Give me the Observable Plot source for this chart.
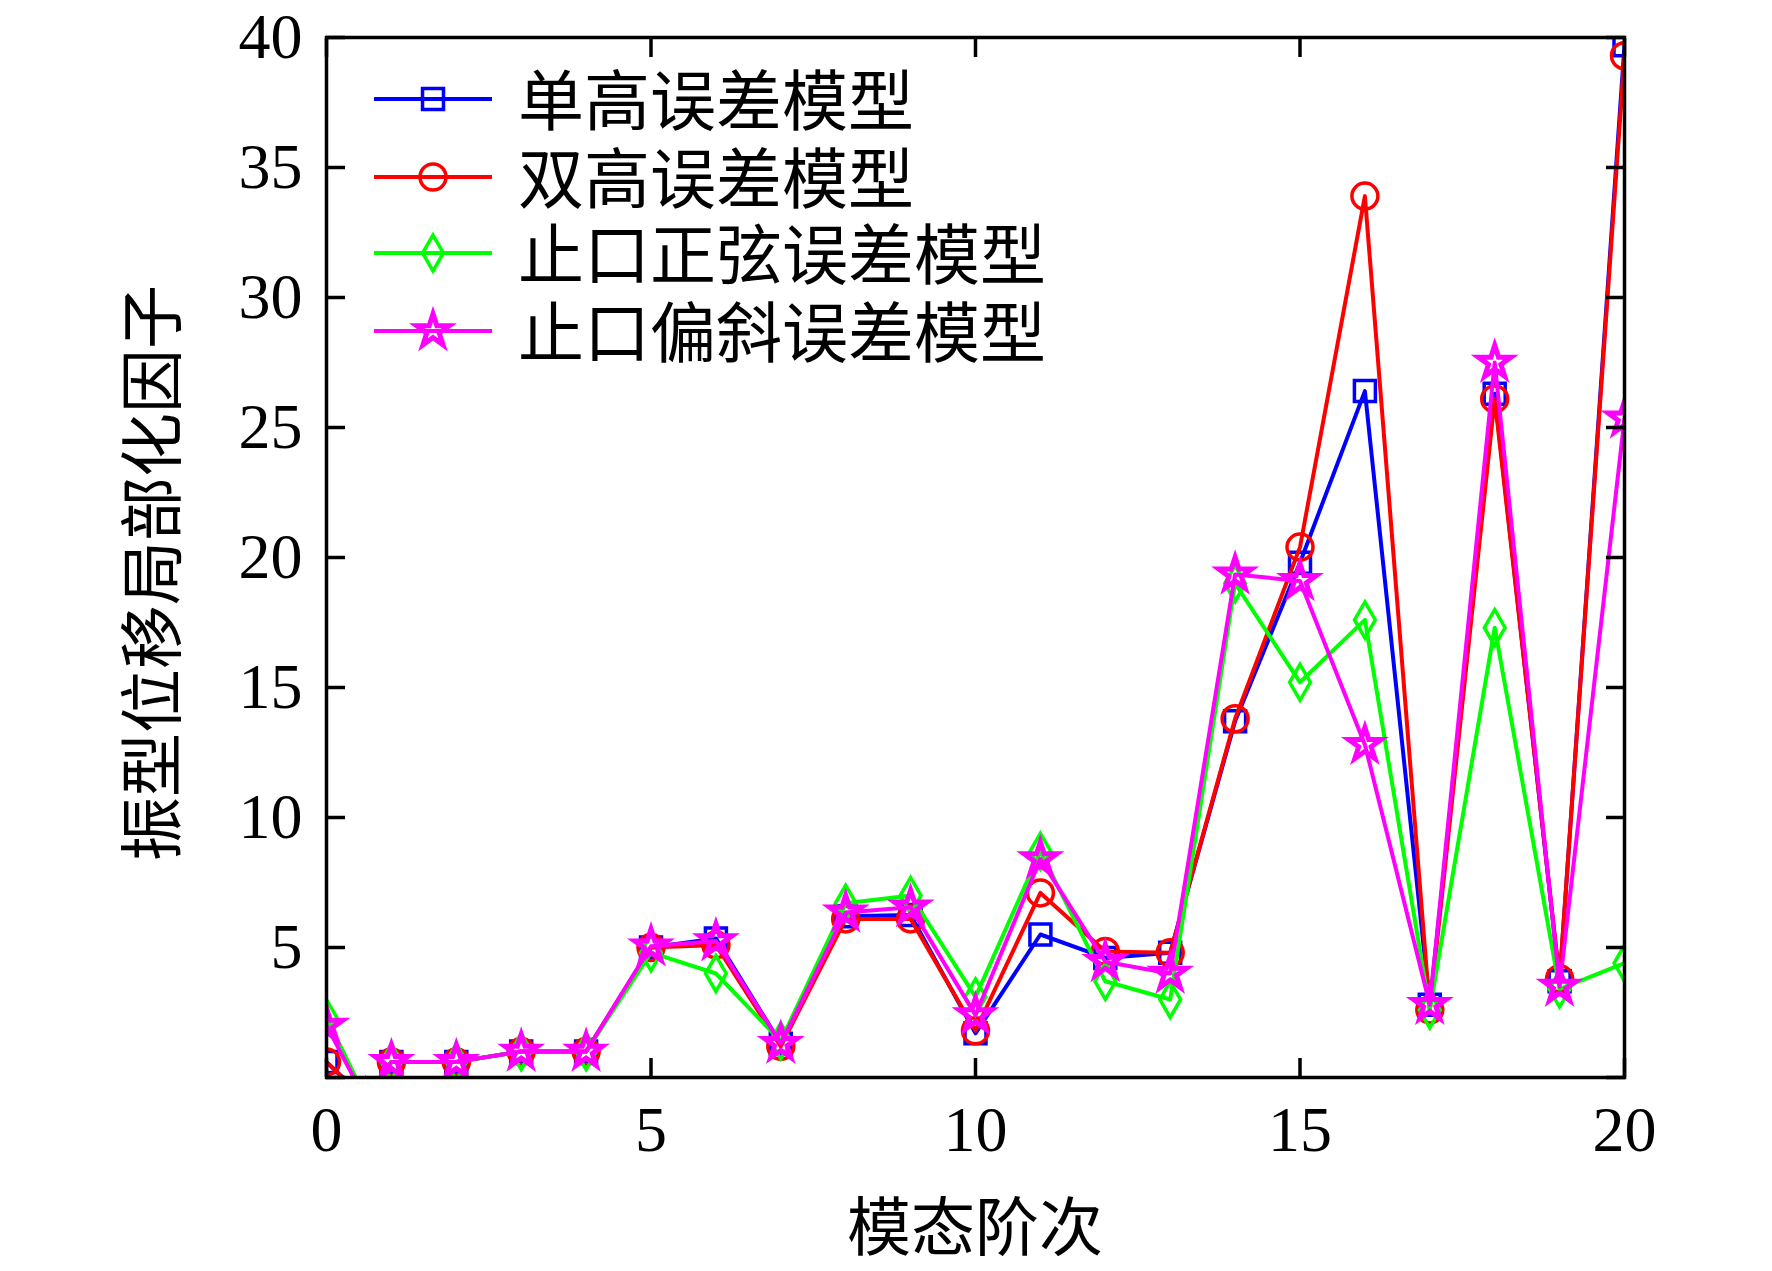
<!DOCTYPE html>
<html><head><meta charset="utf-8">
<script src="https://cdn.jsdelivr.net/npm/d3@7"></script>
<script src="https://cdn.jsdelivr.net/npm/@observablehq/plot@0.6"></script>
<style>
html,body{margin:0;padding:0;background:#fff;}
#wrap{position:relative;width:1772px;height:1271px;overflow:hidden;background:#fff;}
.ttl{position:absolute;font-family:"Noto Sans CJK SC","Noto Sans CJK JP",sans-serif;color:#000;white-space:nowrap;line-height:1;}
#overlay{position:absolute;left:0;top:0;}
</style></head>
<body><div id="wrap"></div>
<script>
// ---- data ----
const modes = [0,1,2,3,4,5,6,7,8,9,10,11,12,13,14,15,16,17,18,19,20];
// the first segment of every series leaves the plot below zero before mode 1
const dipMode = 0.6;
const dipValues = [-0.84, -0.84, -0.76, -0.86];
const seriesNames = ["单高误差模型", "双高误差模型", "止口正弦误差模型", "止口偏斜误差模型"];
const singleHeight = [0.6,0.6,0.6,1.0,1.0,5.0,5.35,1.3,6.2,6.25,1.7,5.5,4.6,4.8,13.7,19.8,26.4,2.8,26.3,3.7,39.7];
const doubleHeight = [0.6,0.6,0.6,1.0,1.0,5.0,5.1,1.2,6.1,6.1,1.8,7.1,4.85,4.8,13.8,20.4,33.9,2.6,26.1,3.8,39.3];
const sineSpigot  = [2.3,0.6,0.6,1.0,1.0,4.8,4.0,1.4,6.7,7.0,3.1,8.7,3.7,3.0,19.0,15.2,17.6,2.6,17.3,3.4,4.4];
const skewSpigot  = [2.0,0.6,0.6,1.0,1.0,5.05,5.25,1.3,6.35,6.55,2.4,8.4,4.45,4.0,19.35,19.1,12.8,2.8,27.5,3.5,25.35];
const xTicks = [0,5,10,15,20];
const yTicks = [0,5,10,15,20,25,30,35,40];
const xLabel = "模态阶次";
const yLabel = "振型位移局部化因子";

// ---- styling ----
const colors = ["#0000ff", "#ff0000", "#00ff00", "#ff00ff"];
const symbols = ["square", "circle", "diamond", "star"];
const symbolSize = [440, 531, 374, 330]; // d3 symbol areas
const symbolStroke = [3.5, 3.5, 3.5, 5];
const seriesValues = [singleHeight, doubleHeight, sineSpigot, skewSpigot];

const W = 1772, H = 1271;
const mL = 326, mR = 148, mT = 37, mB = 194;

function rowsFor(i) {
  const vals = seriesValues[i];
  const rows = [{x: modes[0], y: vals[0]}, {x: dipMode, y: dipValues[i]}];
  for (let k = 1; k < modes.length; k++) rows.push({x: modes[k], y: vals[k]});
  return rows;
}

const seriesMarks = seriesValues.flatMap((_, i) => {
  const rows = rowsFor(i);
  return [
    Plot.line(rows, {x: "x", y: "y", stroke: colors[i], strokeWidth: 4, clip: true}),
    Plot.dot(rows, {x: "x", y: "y", stroke: colors[i], fill: "none", symbol: symbols[i],
      r: Math.sqrt(symbolSize[i] / Math.PI), strokeWidth: symbolStroke[i], clip: true})
  ];
});

const chart = Plot.plot({
  width: W, height: H,
  marginLeft: mL, marginRight: mR, marginTop: mT, marginBottom: mB,
  x: {domain: [0, 20]},
  y: {domain: [0, 40]},
  style: {fontFamily: "'Liberation Serif', 'Times New Roman', serif", fontSize: "64px", background: "#fff", color: "#000"},
  marks: [
    ...seriesMarks,
    Plot.frame({stroke: "#000", strokeWidth: 3.5}),
    Plot.axisY(yTicks, {anchor: "left", tickSize: -19, tickPadding: 43, strokeWidth: 3.5,
      tickFormat: d => d === 0 ? "" : String(d), label: null, fontSize: 64}),
    Plot.axisY(yTicks, {anchor: "right", tickSize: -19, strokeWidth: 3.5, tickFormat: () => "", label: null}),
    Plot.axisX(xTicks, {anchor: "bottom", tickSize: -19, tickPadding: 47, strokeWidth: 3.5,
      tickFormat: d => String(d), label: null, fontSize: 64}),
    Plot.axisX(xTicks, {anchor: "top", tickSize: -19, strokeWidth: 3.5, tickFormat: () => "", label: null})
  ]
});

const wrap = document.getElementById("wrap");
wrap.appendChild(chart);

// axis titles
const xt = document.createElement("div");
xt.className = "ttl"; xt.textContent = xLabel;
xt.style.fontSize = "64px";
xt.style.left = "975px"; xt.style.top = "1222px";
xt.style.transform = "translate(-50%,-50%)";
wrap.appendChild(xt);

const yt = document.createElement("div");
yt.className = "ttl"; yt.textContent = yLabel;
yt.style.fontSize = "64px";
yt.style.left = "147px"; yt.style.top = "573px";
yt.style.transform = "translate(-50%,-50%) rotate(-90deg)";
wrap.appendChild(yt);

// legend (inside the plot, no box)
const legendY = [99, 177, 253, 331];
const svg = d3.select(wrap).append("svg").attr("id", "overlay").attr("width", W).attr("height", H);
const d3sym = {square: d3.symbolSquare, circle: d3.symbolCircle, diamond: d3.symbolDiamond, star: d3.symbolStar};
seriesNames.forEach((name, i) => {
  const g = svg.append("g").attr("transform", `translate(0,${legendY[i]})`);
  g.append("line").attr("x1", 374).attr("x2", 492).attr("y1", 0).attr("y2", 0)
    .attr("stroke", colors[i]).attr("stroke-width", 4);
  g.append("path").attr("transform", "translate(433,0)")
    .attr("d", d3.symbol(d3sym[symbols[i]], symbolSize[i])())
    .attr("fill", "none").attr("stroke", colors[i]).attr("stroke-width", symbolStroke[i]);
  const t = document.createElement("div");
  t.className = "ttl"; t.textContent = name;
  t.style.fontSize = "66px";
  t.style.left = "518px"; t.style.top = (legendY[i] - 3) + "px";
  t.style.transform = "translate(0,-50%)";
  wrap.appendChild(t);
});
</script>
</body></html>
